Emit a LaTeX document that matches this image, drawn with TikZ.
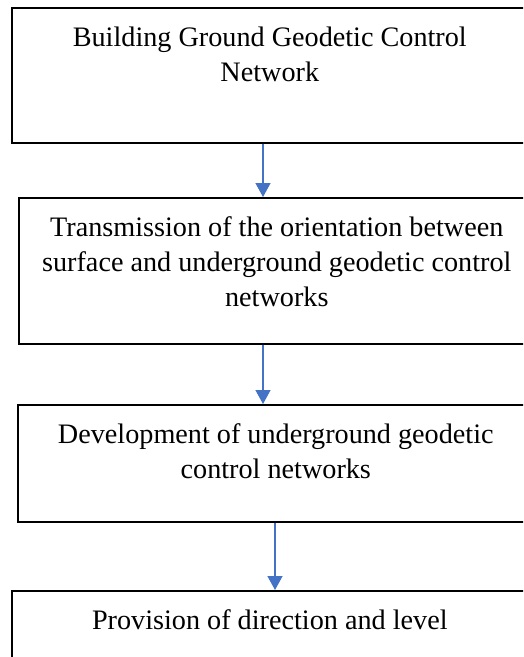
\documentclass[tikz,border=0pt]{standalone}
\usepackage{fontspec}
\setmainfont{Liberation Serif}
\usetikzlibrary{arrows.meta,positioning}
\definecolor{flowblue}{HTML}{4472C4}

\begin{document}
\begin{tikzpicture}[x=1pt, y=-1pt,
  stage/.style={draw, line width=1.6pt, anchor=north west, minimum width=516pt, inner sep=0pt},
  caption/.style={anchor=north, align=center, font=\fontsize{28.2}{35}\selectfont, inner sep=0pt},
  flow/.style={-{Triangle[width=15pt,length=14pt]}, draw=flowblue, fill=flowblue, line width=1.4pt}]
\useasboundingbox (0,0) rectangle (523,657);
\clip (0,0) rectangle (523,657);
\node[stage, minimum height=135pt] (Ground) at (11,7) {};
\node[stage, minimum height=146pt] (Orientation) at (18,197) {};
\node[stage, minimum height=117pt] (Underground) at (17,404) {};
\node[stage, minimum height=120pt] (Provision) at (11,590) {};
\node[caption] (GroundText) at ([yshift=-19.5pt]Ground.north) {Building Ground Geodetic Control\\Network};
\node[caption] (OrientationText) at ([yshift=-19.5pt]Orientation.north) {Transmission of the orientation between\\surface and underground geodetic control\\networks};
\node[caption] (UndergroundText) at ([yshift=-19.5pt]Underground.north) {Development of underground geodetic\\control networks};
\node[caption] (ProvisionText) at ([yshift=-19.5pt]Provision.north) {Provision of direction and level};
\draw[flow] ([xshift=252pt]Ground.south west) -- ([xshift=252pt]Ground.south west |- Orientation.north);
\draw[flow] ([xshift=245pt]Orientation.south west) -- ([xshift=245pt]Orientation.south west |- Underground.north);
\draw[flow] ([xshift=258pt]Underground.south west) -- ([xshift=258pt]Underground.south west |- Provision.north);
\end{tikzpicture}
\end{document}
